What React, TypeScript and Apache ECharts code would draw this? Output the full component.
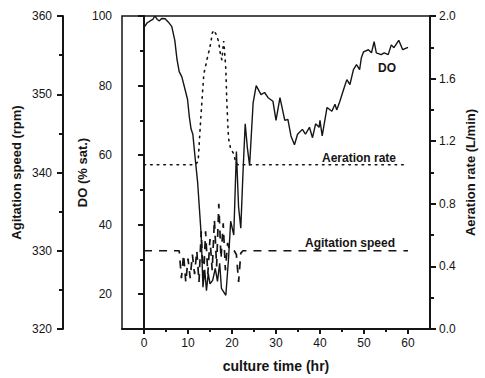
import React, { useEffect, useRef } from "react";
import * as echarts from "echarts";

// Dissolved oxygen (% sat.)
const doTime = [0.2, 0.7, 1.3, 2, 2.5, 3, 3.5, 4, 4.8, 5.5, 6.3, 7, 7.5, 8, 8.6, 9.2, 9.9, 10.3, 10.7, 11.1, 11.6, 12.2, 13, 13.4, 13.8, 14.2, 14.6, 15, 15.6, 16.2, 16.7, 17.2, 17.6, 18.6, 19.2, 19.7, 20.4, 21, 21.5, 22, 22.5, 23, 23.5, 24, 24.8, 25.5, 26.6, 27.4, 28.2, 29.3, 30, 30.9, 32, 32.7, 33.4, 34.2, 34.9, 36, 36.7, 37.6, 38.3, 39, 39.8, 40, 40.5, 41.6, 42.7, 43.4, 43.8, 44.5, 45.4, 46.1, 46.8, 47.6, 48.3, 49, 49.4, 49.9, 51, 51.7, 52.3, 52.8, 53.9, 54.6, 55.5, 56.2, 56.8, 57.9, 58.8, 60];
const doValue = [97, 98, 98.5, 99, 100, 99, 98.6, 99.3, 99.2, 98.3, 97, 93, 87.5, 84, 82.5, 79.5, 76, 71, 67.5, 66, 59.5, 52, 37, 22, 27, 21, 26, 23, 24, 27.4, 23.7, 28.9, 21.7, 19.7, 30, 41, 37, 61, 45, 39, 55, 69, 62, 57, 75, 80, 77.4, 78, 76.5, 75.5, 70, 76.5, 70, 70.3, 65.5, 63, 66, 67.4, 66, 68, 65, 69, 68, 70, 65.5, 73.7, 72.6, 74.6, 73, 75.4, 79, 81.7, 80.3, 84.6, 86, 84.6, 88, 89.7, 90.3, 89.4, 92.6, 89.4, 88.9, 89.4, 88.9, 91.7, 90.9, 93, 90.3, 91];

// Aeration rate (L/min)
const aerTime = [0, 11.6, 12.3, 12.8, 13.2, 13.6, 14, 14.3, 14.8, 15.2, 15.5, 15.9, 16.6, 17, 17.4, 17.7, 18.1, 18.3, 18.6, 18.8, 19, 19.2, 19.7, 20.4, 20.8, 21.3, 60];
const aerValue = [1.05, 1.05, 1.07, 1.3, 1.47, 1.63, 1.68, 1.72, 1.78, 1.83, 1.89, 1.91, 1.87, 1.83, 1.75, 1.72, 1.84, 1.78, 1.66, 1.47, 1.34, 1.22, 1.15, 1.12, 1.07, 1.05, 1.05];

// Agitation speed (rpm)
const agiTime = [0, 8, 8.5, 9, 9.5, 10, 10.5, 11, 11.5, 12, 12.5, 13, 13.5, 14, 14.5, 15, 15.5, 16, 16.5, 17, 17.5, 18, 18.5, 19, 19.5, 20, 20.5, 21, 21.5, 22, 22.5, 60];
const agiValue = [330, 330, 326.5, 329.5, 326, 329, 326.5, 329.5, 327, 330, 326, 332.5, 326, 332.5, 327, 331.5, 327.5, 334, 328, 336, 329, 333.5, 327.5, 331, 330, 330, 330, 329.5, 326, 329.7, 330, 330];

// Tick values
const xTicks = [0, 10, 20, 30, 40, 50, 60];
const xMinorTicks = [5, 15, 25, 35, 45, 55];
const doTicks = [20, 40, 60, 80, 100];
const doMinorTicks = [30, 50, 70, 90];

const FONT = "'Liberation Sans', Arial, Helvetica, sans-serif";
const INK = "#151515";

const zip = (a: number[], b: number[]) => a.map((v, i) => [v, b[i]]);

export default function App() {
  const ref = useRef<HTMLDivElement>(null);
  useEffect(() => {
    if (!ref.current) return;
    const chart = echarts.init(ref.current, undefined, { renderer: "svg" });
    const tickLabel = { color: INK, fontSize: 12, fontFamily: FONT };
    const nameStyle = { color: INK, fontSize: 13, fontWeight: "bold" as const, fontFamily: FONT };
    const line = { show: true, lineStyle: { color: INK, width: 2 } };
    const tickLine = { color: INK, width: 2 };
    chart.setOption({
      animation: false,
      backgroundColor: "#ffffff",
      grid: {
        left: 122,
        right: 52,
        top: 16,
        bottom: 46,
        show: true,
        borderColor: INK,
        borderWidth: 1.5,
        backgroundColor: "transparent",
      },
      xAxis: [
        {
          type: "value",
          min: -5,
          max: 65,
          position: "bottom",
          name: "culture time (hr)",
          nameLocation: "middle",
          nameGap: 30,
          nameMoveOverlap: false,
          nameTextStyle: { ...nameStyle, fontSize: 14 },
          axisLine: line,
          axisTick: { show: true, customValues: xTicks, length: 5, lineStyle: tickLine },
          axisLabel: { ...tickLabel, customValues: xTicks, margin: 8 },
          splitLine: { show: false },
        },
        {
          type: "value",
          min: -5,
          max: 65,
          position: "bottom",
          axisLine: { show: false },
          axisTick: { show: true, customValues: xMinorTicks, length: 3, lineStyle: tickLine },
          axisLabel: { show: false },
          splitLine: { show: false },
        },
      ],
      yAxis: [
        {
          type: "value",
          min: 10,
          max: 100,
          position: "left",
          name: "DO (% sat.)",
          nameLocation: "middle",
          nameRotate: 90,
          nameGap: 33,
          nameMoveOverlap: false,
          nameTextStyle: nameStyle,
          axisLine: line,
          axisTick: { show: true, customValues: doTicks, length: 6, lineStyle: tickLine },
          axisLabel: { ...tickLabel, customValues: doTicks, margin: 10 },
          splitLine: { show: false },
        },
        {
          type: "value",
          min: 10,
          max: 100,
          position: "left",
          axisLine: { show: false },
          axisTick: { show: true, customValues: doMinorTicks, length: 4, lineStyle: tickLine },
          axisLabel: { show: false },
          splitLine: { show: false },
        },
        {
          type: "value",
          min: 320,
          max: 360,
          interval: 10,
          position: "left",
          offset: 59,
          name: "Agitation speed (rpm)",
          nameLocation: "middle",
          nameRotate: 90,
          nameGap: 40,
          nameMoveOverlap: false,
          nameTextStyle: nameStyle,
          axisLine: line,
          axisTick: { show: true, length: 6, lineStyle: tickLine },
          minorTick: { show: true, splitNumber: 2, length: 4, lineStyle: tickLine },
          axisLabel: { ...tickLabel, margin: 11 },
          splitLine: { show: false },
          minorSplitLine: { show: false },
        },
        {
          type: "value",
          min: 0,
          max: 2,
          interval: 0.4,
          position: "right",
          name: "Aeration rate (L/min)",
          nameLocation: "middle",
          nameRotate: 90,
          nameGap: 34,
          nameMoveOverlap: false,
          nameTextStyle: nameStyle,
          axisLine: line,
          axisTick: { show: true, length: 6, lineStyle: tickLine },
          minorTick: { show: true, splitNumber: 2, length: 4, lineStyle: tickLine },
          axisLabel: { ...tickLabel, margin: 9, formatter: (v: number) => v.toFixed(1) },
          splitLine: { show: false },
          minorSplitLine: { show: false },
        },
      ],
      series: [
        {
          name: "DO",
          type: "line",
          xAxisIndex: 0,
          yAxisIndex: 0,
          data: zip(doTime, doValue),
          showSymbol: false,
          lineStyle: { color: INK, width: 1.4 },
        },
        {
          name: "Aeration rate",
          type: "line",
          xAxisIndex: 0,
          yAxisIndex: 3,
          data: zip(aerTime, aerValue),
          showSymbol: false,
          lineStyle: { color: INK, width: 1.6, type: [1.6, 5], cap: "round" },
        },
        {
          name: "Agitation speed",
          type: "line",
          xAxisIndex: 0,
          yAxisIndex: 2,
          data: zip(agiTime, agiValue),
          showSymbol: false,
          lineStyle: { color: INK, width: 1.7, type: [8, 7] },
        },
      ],
      graphic: [
        {
          type: "text",
          x: 387,
          y: 68,
          style: { text: "DO", font: `bold 12px ${FONT}`, fill: INK, align: "center", verticalAlign: "middle" },
        },
        {
          type: "text",
          x: 359,
          y: 158,
          style: { text: "Aeration rate", font: `bold 12px ${FONT}`, fill: INK, align: "center", verticalAlign: "middle" },
        },
        {
          type: "text",
          x: 350,
          y: 243,
          style: { text: "Agitation speed", font: `bold 12px ${FONT}`, fill: INK, align: "center", verticalAlign: "middle" },
        },
      ],
    });
    return () => chart.dispose();
  }, []);
  return (
    <div
      ref={ref}
      style={{ position: "absolute", left: 0, top: 0, width: 485, height: 378, background: "#fff" }}
    />
  );
}
